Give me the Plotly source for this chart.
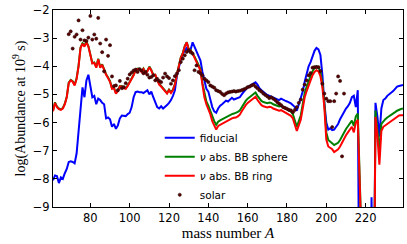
import plotly.graph_objects as go

mass = list(range(61, 240))

fiducial = [
    -8.05, -7.88, -7.90, -8.15, -7.95, -8.00, -7.80, -7.65, -7.40, -7.38,
    -7.40, -7.45, -7.10, -6.30, -5.25, -4.75, -5.10, -4.50, -4.30, -4.65,
    -5.10, -5.05, -5.35, -5.15, -5.20, -5.30, -5.35, -5.85, -5.82, -5.88,
    -6.15, -6.05, -6.22, -6.10, -5.85, -5.75, -5.75, -5.77, -5.70, -5.65,
    -5.45, -5.10, -4.92, -4.90, -4.92, -4.92, -4.95, -4.90, -4.85, -5.00,
    -4.90, -5.10, -5.30, -5.45, -5.50, -5.42, -5.50, -5.45, -5.38, -5.30,
    -5.20, -5.05, -4.85, -4.35, -4.00, -3.75, -3.55, -3.45, -3.35, -3.45,
    -3.40, -3.15, -3.30, -3.50, -3.62, -3.80, -4.20, -4.50, -4.80, -4.90,
    -5.20, -5.45, -5.60, -5.65, -5.50, -5.40, -5.35, -5.30, -5.22, -5.25,
    -5.20, -5.12, -5.18, -5.15, -5.12, -5.10, -5.00, -4.90, -4.82, -4.75,
    -4.70, -4.65, -4.60, -4.57, -4.65, -4.78, -4.85, -4.92, -4.97, -5.02,
    -5.05, -5.08, -5.10, -5.12, -5.15, -5.20, -5.15, -5.20, -5.22, -5.25,
    -5.28, -5.32, -5.38, -5.45, -5.58, -5.35, -5.20, -4.90, -4.55, -4.25,
    -4.00, -3.85, -3.65, -3.45, -3.35, -3.40, -3.60, -4.30, -5.30, -6.00,
    -6.25, -6.20, -6.27, -6.25, -6.15, -6.05, -5.88, -5.75, -5.62, -5.50,
    -5.42, -5.30, -5.10, -5.05, -5.45, -4.85, -15.0, -15.0, -15.0, -15.0,
    -15.0, -15.0, -8.65, -15.0, -5.30, -5.80, -6.50, -5.50, -5.20, -5.15,
    -5.05, -5.00, -4.95, -4.88, -4.80, -4.72, -4.70, -4.68, -4.66,
]

bb_sphere = [
    -5.58, -5.28, -5.43, -5.50, -5.53, -5.48, -5.33, -5.08, -4.58, -4.48,
    -4.53, -4.65, -4.43, -3.98, -3.33, -3.18, -3.25, -3.13, -3.28, -3.58,
    -3.88, -3.86, -4.03, -3.73, -4.03, -3.93, -4.13, -4.28, -4.40, -4.53,
    -4.78, -4.76, -4.95, -4.86, -4.70, -4.70, -4.76, -4.78, -4.68, -4.56,
    -4.46, -4.30, -4.12, -4.08, -4.10, -4.18, -4.08, -4.23, -4.16, -4.01,
    -4.13, -4.30, -4.30, -4.52, -4.62, -4.70, -4.78, -4.88, -4.95, -4.83,
    -4.92, -4.83, -4.63, -4.28, -3.93, -3.68, -3.53, -3.28, -3.14, -3.38,
    -3.42, -3.52, -3.66, -3.80, -3.95, -4.10, -4.60, -5.00, -5.25, -5.40,
    -5.60, -5.80, -5.95, -6.08, -5.97, -5.92, -5.88, -5.85, -5.80, -5.78,
    -5.72, -5.70, -5.68, -5.66, -5.62, -5.57, -5.45, -5.33, -5.23, -5.15,
    -5.10, -5.03, -4.97, -4.93, -5.05, -5.15, -5.23, -5.27, -5.30, -5.31,
    -5.29, -5.30, -5.35, -5.37, -5.40, -5.43, -5.41, -5.45, -5.49, -5.51,
    -5.55, -5.61, -5.70, -5.90, -6.15, -5.95, -5.75, -5.35, -4.95, -4.73,
    -4.50, -4.35, -4.18, -4.06, -4.00, -4.04, -4.20, -4.60, -5.30, -6.35,
    -6.62, -6.68, -6.72, -6.80, -6.76, -6.72, -6.62, -6.48, -6.38, -6.23,
    -6.13, -6.03, -5.93, -6.12, -5.78, -5.68, -15.0, -15.0, -15.0, -15.0,
    -15.0, -15.0, -15.0, -15.0, -5.57, -6.20, -7.00, -6.05, -5.95, -5.88,
    -5.82, -5.78, -5.72, -5.68, -5.63, -5.58, -5.54, -5.52, -5.50,
]

bb_ring = [
    -5.60, -5.30, -5.45, -5.52, -5.55, -5.50, -5.35, -5.10, -4.60, -4.50,
    -4.55, -4.68, -4.45, -4.00, -3.35, -3.20, -3.30, -3.15, -3.30, -3.60,
    -3.90, -3.88, -4.05, -3.75, -4.05, -3.95, -4.15, -4.30, -4.42, -4.55,
    -4.80, -4.78, -4.97, -4.88, -4.72, -4.72, -4.78, -4.80, -4.70, -4.58,
    -4.48, -4.32, -4.14, -4.10, -4.12, -4.20, -4.10, -4.25, -4.18, -4.03,
    -4.15, -4.32, -4.30, -4.50, -4.65, -4.72, -4.80, -4.90, -4.97, -4.85,
    -4.95, -4.85, -4.65, -4.30, -3.95, -3.70, -3.55, -3.30, -3.15, -3.40,
    -3.45, -3.55, -3.70, -3.85, -4.00, -4.15, -4.65, -5.10, -5.35, -5.50,
    -5.70, -5.95, -6.10, -6.25, -6.12, -6.08, -6.04, -6.00, -5.95, -5.93,
    -5.88, -5.85, -5.83, -5.82, -5.78, -5.72, -5.60, -5.48, -5.38, -5.30,
    -5.25, -5.18, -5.12, -5.08, -5.20, -5.30, -5.38, -5.42, -5.45, -5.46,
    -5.44, -5.45, -5.50, -5.52, -5.55, -5.58, -5.56, -5.60, -5.64, -5.66,
    -5.70, -5.76, -5.85, -6.05, -6.30, -6.10, -5.90, -5.50, -5.10, -4.88,
    -4.65, -4.50, -4.32, -4.20, -4.14, -4.18, -4.35, -4.75, -5.45, -6.60,
    -6.85, -6.90, -6.95, -7.05, -7.00, -6.95, -6.85, -6.70, -6.60, -6.45,
    -6.35, -6.25, -6.15, -6.35, -6.00, -5.90, -15.0, -15.0, -15.0, -15.0,
    -15.0, -15.0, -15.0, -15.0, -5.80, -6.50, -7.50, -6.30, -6.15, -6.10,
    -6.05, -6.00, -5.95, -5.90, -5.85, -5.80, -5.75, -5.74, -5.74,
]

solar_mass = [
    69, 70, 71, 72, 73, 74, 75, 76, 77, 78, 79, 80, 81, 82, 83, 84, 85, 86,
    87, 88, 89, 90, 91, 92, 93, 94, 95, 96, 97, 98, 99, 100, 101, 102, 103,
    104, 105, 106, 107, 108, 109, 110, 111, 112, 113, 114, 115, 116, 117,
    118, 119, 120, 121, 122, 123, 124, 125, 126, 127, 128, 129, 130, 131,
    132, 133, 134, 135, 136, 137, 138, 139, 140, 141, 142, 143, 144, 145,
    146, 147, 148, 149, 150, 151, 152, 153, 154, 155, 156, 157, 158, 159,
    160, 161, 162, 163, 164, 165, 166, 167, 168, 169, 170, 171, 172, 173,
    174, 175, 176, 177, 178, 179, 180, 181, 182, 183, 184, 185, 186, 187,
    188, 189, 190, 191, 192, 193, 194, 195, 196, 197, 198, 199, 200, 201,
    202, 203, 204, 205, 206, 207, 208, 209,
]
solar = [
    -2.86, -2.76, -3.37, -2.95, -2.87, -2.37, -3.05, -2.72, -3.08, -3.10,
    -2.98, -2.21, -3.05, -2.87, -3.02, -2.28, -3.19, -3.50, -4.18, -3.05,
    -3.63, -3.25, -4.36, -4.70, -4.68, -4.85, -4.52, -4.78, -4.74, -4.60,
    -4.44, -4.29, -4.22, -4.15, -4.12, -4.20, -4.10, -4.15, -4.25, -4.20,
    -4.30, -4.40, -4.38, -4.32, -4.50, -4.45, -4.52, -4.56, -4.40, -4.26,
    -4.36, -4.42, -4.62, -4.50, -4.35, -4.26, -4.14, -3.85, -3.73, -3.61,
    -3.49, -3.43, -3.50, -3.55, -4.14, -3.97, -4.20, -4.25, -4.32, -4.44,
    -4.50, -4.56, -4.68, -4.72, -4.76, -4.85, -4.88, -4.91, -4.98, -5.03,
    -4.97, -4.93, -4.91, -4.90, -4.88, -4.90, -4.88, -4.87, -4.85, -4.82,
    -4.79, -4.74, -4.72, -4.68, -4.65, -4.72, -4.78, -4.85, -4.90, -4.97,
    -5.02, -5.07, -5.13, -5.10, -5.15, -5.20, -5.27, -5.33, -5.38, -5.45,
    -5.48, -5.51, -5.55, -5.57, -5.63, -5.55, -5.45, -5.30, -5.18, -4.83,
    -4.65, -4.50, -4.32, -4.24, -4.05, -4.03, -4.03, -4.03, -4.17, -4.62,
    -4.97, -5.15, -5.24, -5.24, -6.16, -5.24, -4.97, -4.36, -4.52, -7.20,
    -4.97,
]

x_ticks = [80, 100, 120, 140, 160, 180, 200, 220]
y_ticks = [-9, -8, -7, -6, -5, -4, -3, -2]

fig = go.Figure()
fig.add_trace(go.Scatter(x=mass, y=fiducial, mode="lines", name="fiducial",
                         line=dict(color="#0000ff", width=2)))
fig.add_trace(go.Scatter(x=mass, y=bb_sphere, mode="lines",
                         name="<i>ν</i> abs. BB sphere",
                         line=dict(color="#008000", width=2)))
fig.add_trace(go.Scatter(x=mass, y=bb_ring, mode="lines",
                         name="<i>ν</i> abs. BB ring",
                         line=dict(color="#ff0000", width=2)))
fig.add_trace(go.Scatter(x=solar_mass, y=solar, mode="markers", name="solar",
                         marker=dict(color="#5a0000", size=3.2,
                                     line=dict(color="#200000", width=0.5))))

axis_common = dict(showline=True, linecolor="black", linewidth=1,
                   mirror="ticks", ticks="inside", ticklen=4, tickwidth=1,
                   tickcolor="black", showgrid=False, zeroline=False,
                   tickfont=dict(family="DejaVu Sans", size=11.5, color="black"))

fig.update_xaxes(range=[61, 239], tickvals=x_ticks,
                 title=dict(text="mass number <i>A</i>",
                            font=dict(family="Liberation Serif", size=15, color="black"),
                            standoff=3),
                 **axis_common)
fig.update_yaxes(range=[-9, -2], tickvals=y_ticks,
                 title=dict(text="log(Abundance at 10<sup>9</sup> s)",
                            font=dict(family="Liberation Serif", size=14, color="black"),
                            standoff=3),
                 **axis_common)

fig.update_layout(
    width=407, height=244,
    margin=dict(l=53, r=4, t=10, b=37),
    paper_bgcolor="white", plot_bgcolor="white",
    showlegend=True,
    legend=dict(x=0.305, y=0.425, xanchor="left", yanchor="top",
                bgcolor="rgba(0,0,0,0)", borderwidth=0,
                font=dict(family="DejaVu Sans", size=10.5, color="black"),
                tracegroupgap=0),
)

fig.write_html("out.html", config={"displayModeBar": False},
               post_script="document.body.style.margin='0';document.body.style.padding='0';")
